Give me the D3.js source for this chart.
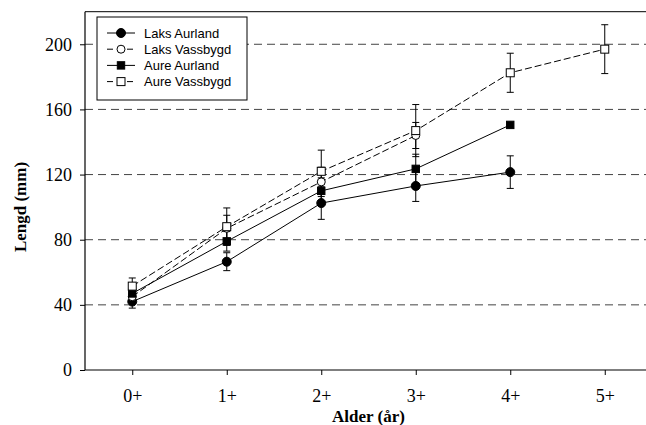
<!DOCTYPE html>
<html>
<head>
<meta charset="utf-8">
<script src="https://cdn.jsdelivr.net/npm/d3@7"></script>
<style>
  body { margin: 0; background: #fff; }
  svg { display: block; }
  .serif { font-family: "Liberation Serif", "Times New Roman", "DejaVu Serif", serif; }
  .sans { font-family: "Liberation Sans", Arial, sans-serif; }
</style>
</head>
<body>
<svg id="chart" width="646" height="425"></svg>
<script>
// ages on the x axis
const ages = ["0+", "1+", "2+", "3+", "4+", "5+"];
const yTicks = [0, 40, 80, 120, 160, 200];

// mean length (mm) per age, with error (mm)
const laksAurland = [42, 66.5, 102.5, 113, 121.5];
const laksAurlandErr = [4, 5.5, 10, 9.5, 10];
const laksVassbygd = [45, 87, 115.5, 144];
const laksVassbygdErr = [4, 8, 9, 8];
const aureAurland = [47, 79, 110, 123.5, 150.5];
const aureAurlandErr = [3, 6, 8, 9, 0];
const aureVassbygd = [51.5, 88, 122, 147, 182.5, 197];
const aureVassbygdErr = [5, 11.5, 13, 16, 12, 15];

const series = [
    { name: "Laks Aurland", values: laksAurland, err: laksAurlandErr, shape: "circle", filled: true, dashed: false },
    { name: "Laks Vassbygd", values: laksVassbygd, err: laksVassbygdErr, shape: "circle", filled: false, dashed: true },
    { name: "Aure Aurland", values: aureAurland, err: aureAurlandErr, shape: "square", filled: true, dashed: false },
    { name: "Aure Vassbygd", values: aureVassbygd, err: aureVassbygdErr, shape: "square", filled: false, dashed: true }
];

const svg = d3.select("#chart");
const margin = { top: 11.7, left: 85, bottom: 370, right: 652 };

const x = d3.scaleLinear().domain([-0.5, 5.5]).range([margin.left, margin.right]);
const y = d3.scaleLinear().domain([0, 220]).range([margin.bottom, margin.top]);

// dashed grid lines
svg.append("g")
    .selectAll("line")
    .data(yTicks.filter(d => d > 0))
    .enter()
    .append("line")
    .attr("x1", margin.left)
    .attr("x2", margin.right)
    .attr("y1", d => y(d))
    .attr("y2", d => y(d))
    .attr("stroke", "#444")
    .attr("stroke-width", 1)
    .attr("stroke-dasharray", "8,5");

// frame top
svg.append("line")
    .attr("x1", margin.left).attr("x2", margin.right)
    .attr("y1", margin.top).attr("y2", margin.top)
    .attr("stroke", "#000").attr("stroke-width", 1);

// axes
const xAxis = svg.append("g")
    .attr("transform", `translate(0, ${margin.bottom})`)
    .call(d3.axisBottom(x).tickValues(d3.range(ages.length)).tickFormat(i => ages[i]).tickSize(5).tickPadding(14));
const yAxis = svg.append("g")
    .attr("transform", `translate(${margin.left}, 0)`)
    .call(d3.axisLeft(y).tickValues(yTicks).tickSize(5).tickPadding(8));

[xAxis, yAxis].forEach(g => {
    g.attr("font-family", null).attr("font-size", null);
    g.select(".domain").attr("stroke", "#000").attr("stroke-width", 1.2);
    g.selectAll(".tick line").attr("stroke", "#000");
    g.selectAll("text").attr("class", "serif").style("font-size", "18px").attr("fill", "#000");
});
xAxis.select(".domain").attr("d", `M${margin.left},0H${margin.right}`);
yAxis.select(".domain").attr("d", `M0,${margin.bottom}V${margin.top}`);

// axis titles
svg.append("text")
    .attr("class", "serif")
    .attr("x", (margin.left + margin.right) / 2)
    .attr("y", 422)
    .attr("text-anchor", "middle")
    .style("font-weight", "bold")
    .style("font-size", "17px")
    .text("Alder (år)");

svg.append("text")
    .attr("class", "serif")
    .attr("transform", "translate(26, 207) rotate(-90)")
    .attr("text-anchor", "middle")
    .style("font-weight", "bold")
    .style("font-size", "17px")
    .text("Lengd (mm)");

const line = d3.line().x((d, i) => x(i)).y(d => y(d));

function drawMarker(g, s, cx, cy) {
    if (s.shape === "circle") {
        g.append("circle")
            .attr("cx", cx).attr("cy", cy).attr("r", s.filled ? 4.5 : 4)
            .attr("fill", s.filled ? "#000" : "#fff")
            .attr("stroke", "#000").attr("stroke-width", 1);
    } else {
        const h = s.filled ? 3.7 : 4;
        g.append("rect")
            .attr("x", cx - h).attr("y", cy - h).attr("width", h * 2).attr("height", h * 2)
            .attr("fill", s.filled ? "#000" : "#fff")
            .attr("stroke", "#000").attr("stroke-width", 1);
    }
}

// lines
series.forEach(s => {
    svg.append("path")
        .datum(s.values)
        .attr("d", line)
        .attr("fill", "none")
        .attr("stroke", "#000")
        .attr("stroke-width", 1)
        .attr("stroke-dasharray", s.dashed ? "7,3" : null);
});

// error bars
series.forEach(s => {
    const g = svg.append("g");
    s.values.forEach((v, i) => {
        const e = s.err[i];
        if (!e) return;
        const cx = x(i);
        g.append("line")
            .attr("x1", cx).attr("x2", cx)
            .attr("y1", y(v - e)).attr("y2", y(v + e))
            .attr("stroke", "#000").attr("stroke-width", 1);
        [v - e, v + e].forEach(t => {
            g.append("line")
                .attr("x1", cx - 3.5).attr("x2", cx + 3.5)
                .attr("y1", y(t)).attr("y2", y(t))
                .attr("stroke", "#000").attr("stroke-width", 1);
        });
    });
});

// markers
series.forEach(s => {
    const g = svg.append("g");
    s.values.forEach((v, i) => drawMarker(g, s, x(i), y(v)));
});

// legend
const legend = svg.append("g").attr("transform", "translate(97, 17)");
legend.append("rect")
    .attr("width", 150).attr("height", 83)
    .attr("fill", "#fff").attr("stroke", "#000").attr("stroke-width", 1);

series.forEach((s, i) => {
    const ly = 16 + i * 16.2;
    const g = legend.append("g");
    g.append("line")
        .attr("x1", 10).attr("x2", 38)
        .attr("y1", ly).attr("y2", ly)
        .attr("stroke", "#000").attr("stroke-width", 1)
        .attr("stroke-dasharray", s.dashed ? "6,4" : null);
    drawMarker(g, s, 24, ly);
    g.append("text")
        .attr("class", "sans")
        .attr("x", 47).attr("y", ly + 4.5)
        .style("font-size", "13px")
        .text(s.name);
});
</script>
</body>
</html>
